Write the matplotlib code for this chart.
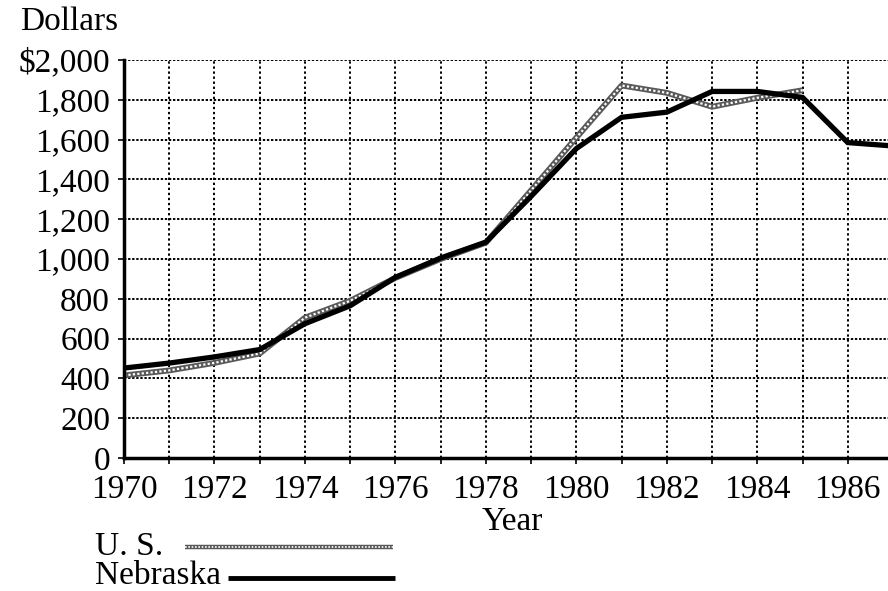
import matplotlib
matplotlib.use("Agg")
import matplotlib.pyplot as plt
from matplotlib.lines import Line2D

years = list(range(1970, 1988))
nebraska = [452, 477, 508, 545, 675, 765, 908, 1005, 1085, 1315, 1555, 1712, 1738, 1842, 1842, 1812, 1585, 1568]
us_years = list(range(1970, 1986))
us = [415, 440, 478, 525, 705, 790, 905, 1000, 1082, 1345, 1610, 1872, 1835, 1765, 1810, 1848]
ytick_vals = [0, 200, 400, 600, 800, 1000, 1200, 1400, 1600, 1800, 2000]
ytick_labels = ["0", "200", "400", "600", "800", "1,000", "1,200", "1,400", "1,600", "1,800", "$2,000"]
xtick_vals = list(range(1970, 1988, 2))

plt.rcParams['font.family'] = ['Liberation Serif', 'DejaVu Serif']
FS = 24
fig = plt.figure(figsize=(8.88, 5.91), dpi=100)
W, H = 888, 591
ax = fig.add_axes([124 / W, 1 - 458 / H, (893 - 124) / W, (458 - 60) / H])
ax.set_xlim(1970, 1987)
ax.set_ylim(0, 2000)

# grid
for yv in ytick_vals[1:]:
    ax.axhline(yv, color='black', lw=1.4, ls=(0, (1.2, 0.9)), zorder=1)
for xv in years[1:]:
    ax.axvline(xv, color='black', lw=1.4, ls=(0, (1.2, 1.4)), zorder=1)

# lines
ax.plot(us_years, us, color='0.35', lw=4.2, solid_capstyle='butt', zorder=3)
ax.plot(us_years, us, color='white', lw=1.6, ls=(0, (1, 1)), zorder=3.5)
ax.plot(years, nebraska, color='black', lw=3.8, solid_joinstyle='miter', zorder=4)

for s in ['top', 'right']:
    ax.spines[s].set_visible(False)
ax.spines['left'].set_linewidth(2.5)
ax.spines['bottom'].set_linewidth(2.5)
ax.spines['left'].set_zorder(5)
ax.spines['bottom'].set_zorder(5)

ax.set_yticks(ytick_vals)
ax.set_yticklabels(ytick_labels)
ax.set_xticks(xtick_vals)
ax.set_xticklabels([str(v) for v in xtick_vals])
ax.set_xticks(years, minor=True)
ax.tick_params(axis='both', which='major', labelsize=FS, length=4, width=1.2, direction='out')
ax.tick_params(axis='x', which='minor', length=4, width=1.2, direction='out')
ax.tick_params(axis='x', which='major', pad=8)
ax.tick_params(axis='y', which='major', pad=6)

fig.text(20 / W, 1 - 22 / H, "Dollars", fontsize=FS, ha='left', va='center')
fig.text(512 / W, 1 - 522 / H, "Year", fontsize=FS, ha='center', va='center')

# legend drawn manually
fig.text(95 / W, 1 - 547 / H, "U. S.", fontsize=FS, ha='left', va='center')
fig.text(95 / W, 1 - 576 / H, "Nebraska", fontsize=FS, ha='left', va='center')
fig.add_artist(Line2D([185 / W, 393 / W], [1 - 547 / H, 1 - 547 / H], color='0.35', lw=3.2, solid_capstyle='butt'))
fig.add_artist(Line2D([185 / W, 393 / W], [1 - 547 / H, 1 - 547 / H], color='white', lw=1.2, ls=(0, (1, 1))))
fig.add_artist(Line2D([228 / W, 395 / W], [1 - 578 / H, 1 - 578 / H], color='black', lw=3.5, solid_capstyle='butt'))

fig.savefig("out.png", dpi=100)
